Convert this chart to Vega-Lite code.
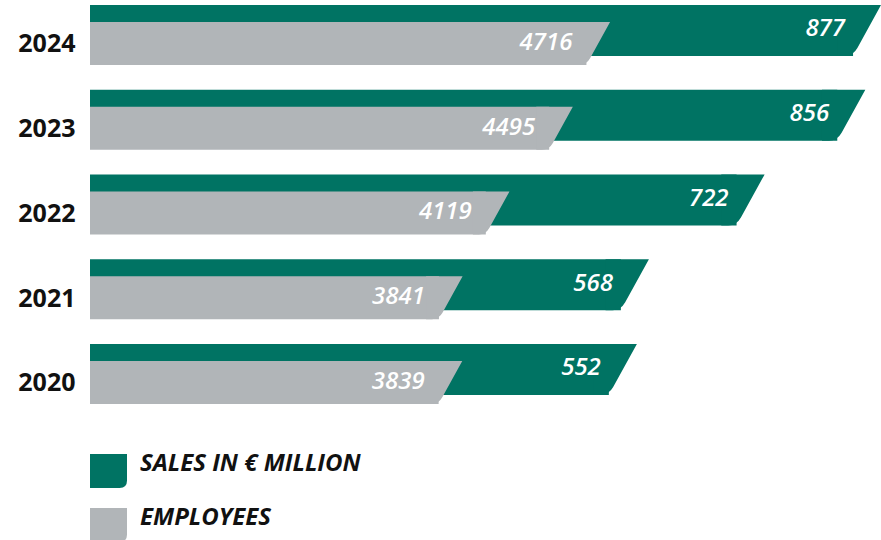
{
  "$schema": "https://vega.github.io/schema/vega-lite/v6.json",
  "width": 791,
  "height": 423.75,
  "autosize": "none",
  "padding": {"left": 90, "top": 5, "right": 0, "bottom": 111.25},
  "background": "white",
  "config": {"view": {"stroke": null}, "font": "Open Sans"},
  "data": {
    "values": [
      {"year": "2024", "sales": 877, "employees": 4716},
      {"year": "2023", "sales": 856, "employees": 4495},
      {"year": "2022", "sales": 722, "employees": 4119},
      {"year": "2021", "sales": 568, "employees": 3841},
      {"year": "2020", "sales": 552, "employees": 3839}
    ]
  },
  "encoding": {
    "y": {
      "field": "year",
      "type": "ordinal",
      "sort": "descending",
      "scale": {"paddingInner": 0, "paddingOuter": 0},
      "axis": {
        "title": null,
        "domain": false,
        "ticks": false,
        "labelPadding": 15,
        "labelFont": "Open Sans",
        "labelFontSize": 25,
        "labelFontWeight": "bold",
        "labelColor": "#111111",
        "labelOffset": -3
      }
    }
  },
  "layer": [
    {
      "encoding": {
        "x": {
          "field": "sales",
          "type": "quantitative",
          "scale": {"domain": [-138.5, 914.2], "zero": false, "nice": false},
          "axis": null
        }
      },
      "layer": [
        {
          "mark": {"type": "bar", "height": 51, "yOffset": -17},
          "encoding": {
            "x2": {"datum": -138.5},
            "color": {
              "datum": "SALES IN € MILLION",
              "scale": {
                "domain": ["SALES IN € MILLION", "EMPLOYEES"],
                "range": ["#007363", "#b1b5b8"]
              },
              "legend": {
                "orient": "none",
                "legendX": 0,
                "legendY": 440,
                "title": null,
                "padding": 0,
                "symbolType": "M-1,-0.51 L1,-0.51 L1,0.92 Q1,1.32 0.6,1.32 L-1,1.32 Z",
                "symbolSize": 1369,
                "symbolStrokeWidth": 0,
                "symbolOpacity": 1,
                "labelFont": "Open Sans",
                "labelFontSize": 24,
                "labelFontStyle": "italic",
                "labelFontWeight": "bold",
                "labelColor": "#111111",
                "labelOffset": 13,
                "labelLimit": 0,
                "rowPadding": 11
              }
            }
          }
        },
        {
          "mark": {
            "type": "point",
            "shape": "M-0.6,-1 L1.1,-1 L0.17,0.69 Q0,1 -0.33,1 L-0.6,1 Z",
            "size": 2601,
            "filled": true,
            "fill": "#007363",
            "opacity": 1,
            "strokeWidth": 0,
            "yOffset": -17
          }
        },
        {
          "mark": {
            "type": "text",
            "align": "right",
            "baseline": "middle",
            "dx": -8,
            "yOffset": -18,
            "font": "Open Sans",
            "fontSize": 24,
            "fontStyle": "italic",
            "fontWeight": 600,
            "fill": "white"
          },
          "encoding": {"text": {"field": "sales", "type": "quantitative"}}
        }
      ]
    },
    {
      "encoding": {
        "x": {
          "field": "employees",
          "type": "quantitative",
          "scale": {"domain": [1770.5, 6463.8], "zero": false, "nice": false},
          "axis": null
        }
      },
      "layer": [
        {
          "mark": {"type": "bar", "height": 43, "yOffset": -4},
          "encoding": {
            "x2": {"datum": 1770.5},
            "color": {"datum": "EMPLOYEES"}
          }
        },
        {
          "mark": {
            "type": "point",
            "shape": "M-0.6,-1 L1.1,-1 L0.17,0.69 Q0,1 -0.33,1 L-0.6,1 Z",
            "size": 1849,
            "filled": true,
            "fill": "#b1b5b8",
            "opacity": 1,
            "strokeWidth": 0,
            "yOffset": -4
          }
        },
        {
          "mark": {
            "type": "text",
            "align": "right",
            "baseline": "middle",
            "dx": -14,
            "yOffset": -4.5,
            "font": "Open Sans",
            "fontSize": 24,
            "fontStyle": "italic",
            "fontWeight": 600,
            "fill": "white"
          },
          "encoding": {"text": {"field": "employees", "type": "quantitative", "format": "d"}}
        }
      ]
    }
  ],
  "resolve": {"scale": {"x": "independent"}}
}
